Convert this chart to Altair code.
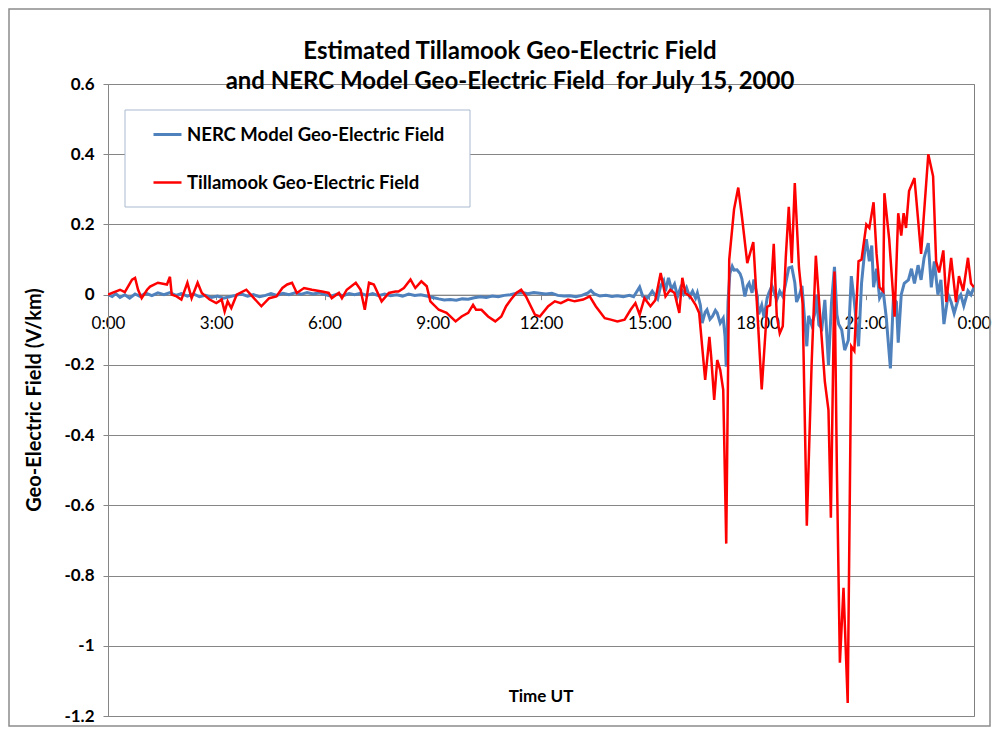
import altair as alt
import pandas as pd

series_names = ["NERC Model Geo-Electric Field", "Tillamook Geo-Electric Field"]
series_colors = ["#4F81BD", "#FF0000"]

# minutes after 00:00 UT, July 15 2000
nerc_min = [0, 7, 13, 20, 28, 36, 45, 53, 63, 73, 83, 93, 103, 113, 122, 132, 142, 152, 162, 172,
            182, 192, 202, 212, 222, 232, 242, 252, 262, 271, 281, 291, 301, 311, 321, 331, 341, 351,
            361, 371, 381, 391, 401, 410, 420, 430, 440, 450, 460, 470, 480, 490, 500, 510, 520, 530,
            540, 550, 559, 569, 579, 589, 599, 609, 619, 629, 639, 649, 659, 669, 679, 689, 698, 708,
            718, 728, 738, 748, 758, 768, 778, 788, 798, 803, 808, 818, 828, 838, 847, 857, 867, 874,
            884, 889, 897, 905, 914, 919, 924, 927, 932, 937, 942, 947, 952, 957, 962, 967, 972, 977,
            980, 985, 988, 993, 996, 1001, 1005, 1010, 1013, 1018, 1023, 1026, 1028, 1031, 1034, 1038,
            1041, 1046, 1051, 1054, 1059, 1063, 1066, 1071, 1074, 1079, 1082, 1087, 1091, 1096, 1099,
            1104, 1109, 1112, 1117, 1122, 1126, 1132, 1137, 1142, 1145, 1150, 1154, 1157, 1162, 1165,
            1170, 1175, 1178, 1182, 1187, 1192, 1198, 1203, 1208, 1212, 1215, 1220, 1225, 1231, 1236,
            1241, 1248, 1253, 1258, 1261, 1266, 1270, 1273, 1278, 1283, 1289, 1294, 1301, 1306, 1311,
            1314, 1319, 1324, 1331, 1336, 1341, 1347, 1352, 1357, 1364, 1369, 1374, 1380, 1385, 1390,
            1397, 1402, 1407, 1414, 1418, 1423, 1430, 1435, 1440]
nerc_val = [0.0, -0.005, 0.003, -0.008, 0.0, -0.01, 0.002, -0.005, 0.004, -0.003, 0.005, 0.0, 0.006,
            -0.002, 0.003, -0.004, 0.002, -0.006, -0.002, -0.008, -0.004, -0.01, -0.006, -0.002, 0.002,
            -0.004, 0.0, -0.006, -0.002, 0.003, -0.002, 0.004, 0.0, 0.005, 0.001, 0.006, 0.002, 0.005,
            0.0, -0.004, 0.002, -0.003, 0.003, 0.0, 0.004, -0.002, 0.003, -0.003, 0.002, -0.003, 0.0,
            -0.004, 0.002, -0.002, 0.0, -0.004, -0.008, -0.012, -0.015, -0.014, -0.016, -0.012, -0.013,
            -0.009, -0.006, -0.008, -0.004, -0.006, -0.002, 0.0, 0.004, 0.006, 0.003, 0.006, 0.004,
            0.002, 0.004, -0.002, -0.004, -0.003, -0.006, -0.002, 0.005, 0.012, 0.003, -0.004, -0.002,
            -0.005, -0.003, -0.006, -0.002, -0.006, 0.022, -0.004, -0.01, 0.01, -0.012, 0.025, 0.04,
            0.01, 0.048, 0.015, 0.03, -0.005, 0.02, 0.002, 0.02, -0.005, 0.01, -0.01, 0.005, -0.03,
            -0.081, -0.05, -0.043, -0.07, -0.062, -0.045, -0.052, -0.081, -0.067, -0.119, -0.205, -0.02,
            0.06, 0.081, 0.07, 0.071, 0.06, 0.045, -0.005, 0.025, 0.033, 0.005, 0.043, 0.0, -0.056,
            -0.03, -0.066, -0.01, 0.005, 0.025, 0.0, -0.015, 0.01, -0.005, 0.025, 0.076, 0.079, 0.035,
            -0.021, 0.0, 0.025, -0.042, -0.147, -0.06, -0.086, -0.056, 0.0, -0.086, -0.096, -0.015,
            -0.2, -0.025, 0.079, -0.056, -0.084, -0.1, -0.158, -0.13, 0.053, -0.02, -0.147, 0.032, 0.12,
            0.158, 0.095, 0.14, 0.021, 0.074, -0.01, 0.01, -0.063, -0.21, -0.01, -0.021, -0.137, 0.0,
            0.032, 0.042, 0.074, 0.032, 0.084, 0.042, 0.105, 0.147, 0.021, 0.095, 0.0, 0.042, -0.084,
            0.0, -0.021, -0.053, -0.011, 0.0, -0.032, 0.011, 0.0, 0.021]

till_min = [0, 8, 20, 28, 40, 45, 50, 56, 65, 70, 83, 98, 103, 106, 114, 122, 132, 139, 149, 156,
            169, 180, 189, 194, 199, 205, 214, 230, 240, 255, 268, 280, 290, 298, 306, 314, 326, 339,
            356, 367, 372, 384, 389, 397, 412, 420, 427, 434, 442, 455, 467, 478, 483, 492, 503, 511,
            521, 530, 536, 550, 563, 578, 588, 599, 607, 612, 621, 632, 644, 654, 662, 670, 679, 687,
            695, 710, 718, 732, 743, 753, 765, 776, 790, 801, 811, 826, 836, 847, 859, 869, 877, 884,
            892, 902, 910, 919, 927, 935, 942, 950, 955, 960, 968, 977, 983, 988, 993, 1000, 1003,
            1008, 1013, 1018, 1023, 1028, 1033, 1041, 1048, 1054, 1063, 1073, 1079, 1087, 1096, 1101,
            1107, 1112, 1117, 1122, 1127, 1132, 1137, 1142, 1149, 1155, 1162, 1170, 1177, 1183, 1192,
            1198, 1202, 1208, 1212, 1217, 1223, 1230, 1236, 1241, 1248, 1253, 1261, 1266, 1273, 1278,
            1283, 1289, 1291, 1299, 1308, 1314, 1319, 1323, 1327, 1332, 1341, 1352, 1364, 1372, 1377,
            1382, 1389, 1394, 1402, 1410, 1415, 1422, 1430, 1435, 1440]
till_val = [0.0, 0.006, 0.014, 0.007, 0.043, 0.048, 0.014, -0.01, 0.014, 0.023, 0.034, 0.029, 0.051,
            0.0, -0.005, -0.014, 0.034, -0.01, 0.034, 0.005, -0.014, -0.024, -0.014, -0.048, -0.019,
            -0.038, 0.0, 0.014, -0.005, -0.033, -0.01, -0.005, 0.019, 0.029, 0.034, 0.005, 0.019, 0.014,
            0.009, 0.005, -0.01, 0.005, -0.01, 0.014, 0.034, 0.014, -0.043, 0.034, 0.029, -0.019, 0.005,
            0.009, 0.009, 0.019, 0.043, 0.019, 0.038, 0.024, -0.019, -0.043, -0.052, -0.076, -0.062,
            -0.052, -0.029, -0.043, -0.043, -0.062, -0.076, -0.062, -0.033, -0.014, 0.005, 0.014,
            -0.005, -0.057, -0.062, -0.033, -0.019, -0.024, -0.014, -0.019, -0.014, -0.005, -0.033,
            -0.067, -0.071, -0.076, -0.071, -0.043, -0.024, -0.057, -0.01, -0.033, -0.016, 0.062,
            -0.005, 0.014, 0.005, -0.052, 0.048, 0.005, -0.005, -0.029, -0.052, -0.148, -0.243, -0.12,
            -0.177, -0.3, -0.186, -0.214, -0.271, -0.709, 0.1, 0.243, 0.305, 0.224, 0.09, 0.15, -0.025,
            -0.27, -0.035, -0.03, 0.145, -0.06, -0.11, -0.09, 0.106, 0.25, 0.09, 0.318, 0.076, -0.025,
            -0.658, -0.197, 0.111, -0.035, -0.248, -0.329, -0.635, 0.066, -0.501, -1.048, -0.835,
            -1.163, -0.147, -0.16, 0.095, 0.1, 0.2, 0.19, 0.263, 0.116, 0.021, 0.01, 0.289, 0.158,
            -0.063, 0.232, 0.168, 0.232, 0.19, 0.295, 0.332, 0.116, 0.4, 0.337, 0.095, 0.063, 0.126,
            -0.021, 0.105, -0.021, 0.053, 0.011, 0.105, 0.032, 0.021]

y_ticks = [0.6, 0.4, 0.2, 0.0, -0.2, -0.4, -0.6, -0.8, -1.0, -1.2]
x_ticks = [0, 180, 360, 540, 720, 900, 1080, 1260, 1440]
title_lines = ["Estimated Tillamook Geo-Electric Field",
               "and NERC Model Geo-Electric Field\u00a0\u00a0for July 15, 2000"]
x_title = "Time UT"
y_title = "Geo-Electric Field (V/km)"

FONT = "Lato"
W, H = 866, 632

df = pd.concat([
    pd.DataFrame({"t": nerc_min, "v": nerc_val, "series": series_names[0]}),
    pd.DataFrame({"t": till_min, "v": till_val, "series": series_names[1]}),
], ignore_index=True)

one = alt.Data(values=[{"a": 1}])

frame = alt.Chart(one).mark_rect(fill="transparent", stroke="#8c8c8c", strokeWidth=1.5).encode(
    x=alt.value(-99), x2=alt.value(882), y=alt.value(-75), y2=alt.value(642))

legend_box = alt.Chart(one).mark_rect(fill="white", stroke="#a9b9d1", strokeWidth=1).encode(
    x=alt.value(17), x2=alt.value(362), y=alt.value(26), y2=alt.value(123))

y_zero_offset = -(H - H * 0.6 / 1.8)

lines = alt.Chart(df).mark_line(clip=True).encode(
    x=alt.X("t:Q", scale=alt.Scale(domain=[0, 1440], nice=False),
            axis=alt.Axis(values=x_ticks, labelExpr="floor(datum.value/60)%24 + ':00'",
                          title=None, grid=False, offset=y_zero_offset,
                          domainColor="#868686", tickColor="#868686", tickSize=5,
                          labelFont=FONT, labelFontSize=17, labelColor="#000000",
                          labelPadding=16, labelOverlap=False, labelFlush=False)),
    y=alt.Y("v:Q", scale=alt.Scale(domain=[-1.2, 0.6], nice=False, zero=False),
            axis=alt.Axis(values=y_ticks, labelExpr="toString(datum.value)",
                          title=None, grid=True, gridColor="#868686", gridWidth=1,
                          domainColor="#868686", tickColor="#868686", tickSize=5,
                          labelFont=FONT, labelFontSize=17, labelFontWeight="bold",
                          labelColor="#000000", labelPadding=9)),
    color=alt.Color("series:N",
                    scale=alt.Scale(domain=series_names, range=series_colors),
                    legend=alt.Legend(title=None, orient="none", legendX=44, legendY=35,
                                      symbolType="stroke", symbolSize=784, symbolStrokeWidth=3,
                                      labelFont=FONT, labelFontSize=18.5, labelFontWeight="bold",
                                      labelColor="#000000", labelOffset=4, rowPadding=23,
                                      padding=0, labelLimit=400)),
    strokeWidth=alt.StrokeWidth("series:N",
                                scale=alt.Scale(domain=series_names, range=[3, 2.5]),
                                legend=None),
    order=alt.Order("t:Q"),
)

title = alt.Chart(one).mark_text(font=FONT, fontSize=24, fontWeight="bold", lineHeight=30,
                                 baseline="middle", align="center", color="#000000").encode(
    x=alt.value(402), y=alt.value(-32), text=alt.value(title_lines))

xlab = alt.Chart(one).mark_text(font=FONT, fontSize=17, fontWeight="bold",
                                baseline="middle", align="center", color="#000000").encode(
    x=alt.value(433), y=alt.value(613), text=alt.value(x_title))

ylab = alt.Chart(one).mark_text(font=FONT, fontSize=20, fontWeight="bold", angle=270,
                                baseline="middle", align="center", color="#000000").encode(
    x=alt.value(-73), y=alt.value(316), text=alt.value(y_title))

chart = alt.layer(frame, legend_box, lines, title, xlab, ylab).properties(
    width=W, height=H,
    autosize=alt.AutoSizeParams(type="none"),
    padding={"left": 100, "top": 76, "right": 18, "bottom": 14},
    background="white",
).configure_view(stroke="#7f7f7f", strokeWidth=1)

chart.save("out.html", embed_options={"renderer": "svg", "actions": False})
